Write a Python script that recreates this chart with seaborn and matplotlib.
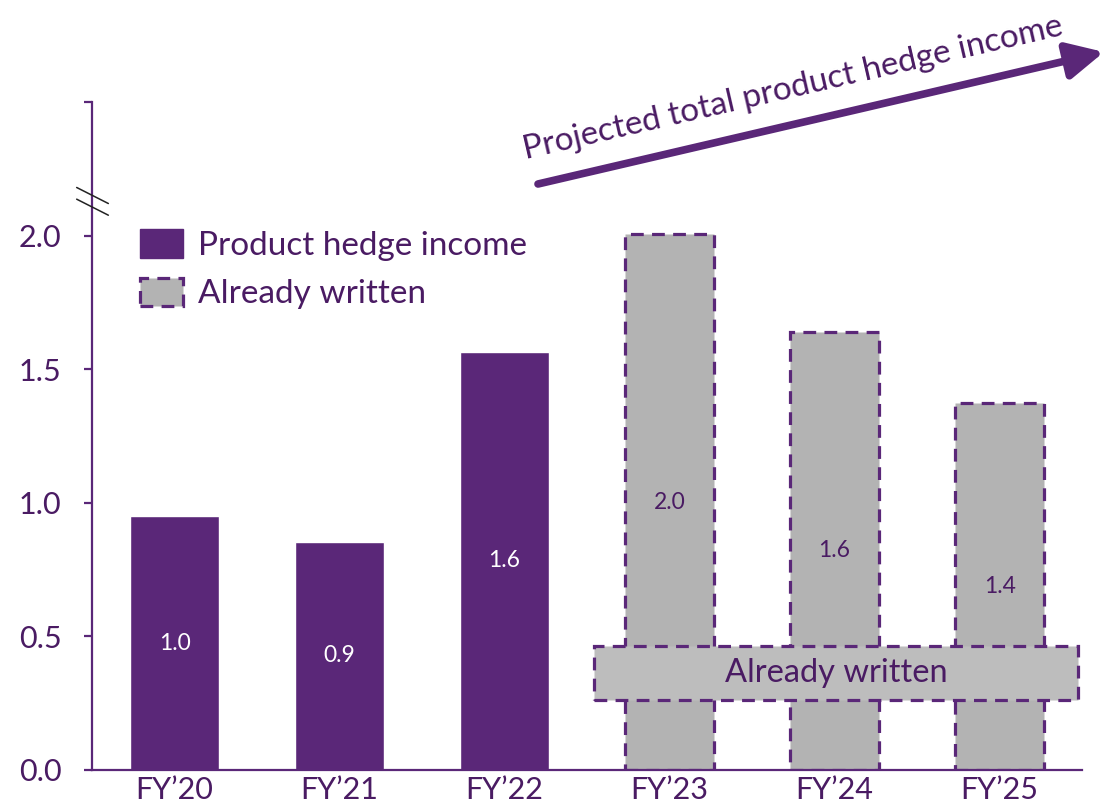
import matplotlib.pyplot as plt
import matplotlib as mpl
from matplotlib.patches import Patch, Rectangle
from matplotlib.lines import Line2D
import matplotlib.colors as mcolors
import pandas as pd
import seaborn as sns

# data
years = ["FY\u201920", "FY\u201921", "FY\u201922", "FY\u201923", "FY\u201924", "FY\u201925"]
values = [0.95, 0.855, 1.565, 2.005, 1.64, 1.375]
value_labels = ["1.0", "0.9", "1.6", "2.0", "1.6", "1.4"]
kinds = ["Product hedge income"] * 3 + ["Already written"] * 3
ytick_vals = [0, 0.5, 1.0, 1.5, 2.0, 2.5]
ytick_labels = ["0.0", "0.5", "1.0", "1.5", "2.0", ""]

purple = "#5a2778"
dark_purple = "#4a1b63"
grey_bar = "#b3b3b3"
grey_box = "#bdbdbd"

sns.set_theme(style="white")
plt.rcParams['font.family'] = ['Lato', 'DejaVu Sans']

df = pd.DataFrame({"year": years, "value": values, "kind": kinds})

fig = plt.figure(figsize=(11.06, 8.10), dpi=100)
ax = fig.add_axes([0.0832, 0.0494, 0.8952, 0.8247])

sns.barplot(data=df, x="year", y="value", hue="kind",
            hue_order=["Product hedge income", "Already written"],
            palette={"Product hedge income": purple, "Already written": grey_bar},
            dodge=False, width=0.54, saturation=1, legend=False, ax=ax)

# dashed outline for the already-written bars
grey_rgb = mcolors.to_rgb(grey_bar)
for p in ax.patches:
    if tuple(round(c, 3) for c in p.get_facecolor()[:3]) == tuple(round(c, 3) for c in grey_rgb):
        p.set_edgecolor(purple)
        p.set_linestyle((0, (4, 2.6)))
        p.set_linewidth(2.3)
        p.set_zorder(2)

# value labels in the middle of each bar
for i, (v, lab, k) in enumerate(zip(values, value_labels, kinds)):
    col = "white" if k == "Product hedge income" else dark_purple
    ax.text(i, v / 2, lab, ha="center", va="center", fontsize=16.5, color=col, zorder=5)

# "Already written" box
box = Rectangle((2.545, 0.263), 2.93, 0.202, facecolor=grey_box, edgecolor=purple,
                linestyle=(0, (4, 2.6)), linewidth=2.3, zorder=4)
ax.add_patch(box)
ax.text(4.01, 0.362, "Already written", ha="center", va="center",
        fontsize=23.5, color=dark_purple, zorder=6)

ax.set_xlim(-0.5, 5.5)
ax.set_ylim(0, 2.5)
ax.set_yticks(ytick_vals)
ax.set_yticklabels(ytick_labels)
ax.set_xlabel("")
ax.set_ylabel("")

for s in ["top", "right"]:
    ax.spines[s].set_visible(False)
for s in ["left", "bottom"]:
    ax.spines[s].set_color(purple)
    ax.spines[s].set_linewidth(1.6)
ax.tick_params(axis="y", direction="out", length=6, width=1.6, color=purple,
               labelsize=22, labelcolor=dark_purple, pad=16, left=True)
ax.tick_params(axis="x", length=0, labelsize=22, labelcolor=dark_purple, pad=4)

# axis break marks
for dy in [0, 0.0175]:
    ax.add_line(Line2D([-0.0155, 0.0165], [0.872 - dy, 0.848 - dy], transform=ax.transAxes,
                       color="#222222", lw=1.1, clip_on=False, zorder=10))

# legend
handles = [Patch(facecolor=purple, edgecolor=purple),
           Patch(facecolor=grey_bar, edgecolor=purple, linestyle=(0, (4, 2.6)), linewidth=2.3)]
leg = ax.legend(handles, ["Product hedge income", "Already written"], loc="upper left",
                bbox_to_anchor=(0.0485, 0.81), frameon=False, fontsize=24,
                handlelength=1.3, handleheight=0.96, handletextpad=0.45,
                labelspacing=0.5, borderpad=0, borderaxespad=0)
for t in leg.get_texts():
    t.set_color(dark_purple)

# projection arrow and label
ax.annotate("", xy=(1104 / 1106, 1 - 52 / 810), xytext=(538 / 1106, 1 - 184 / 810),
            xycoords="figure fraction", textcoords="figure fraction",
            arrowprops=dict(arrowstyle="-|>,head_length=1.0,head_width=0.5",
                            lw=5.5, color=purple, shrinkA=0, shrinkB=0, mutation_scale=22))
fig.text(793 / 1106, 1 - 88 / 810, "Projected total product hedge income", rotation=13,
         rotation_mode="anchor", ha="center", va="center", fontsize=24, color=dark_purple)

fig.savefig("out.png", dpi=100)
